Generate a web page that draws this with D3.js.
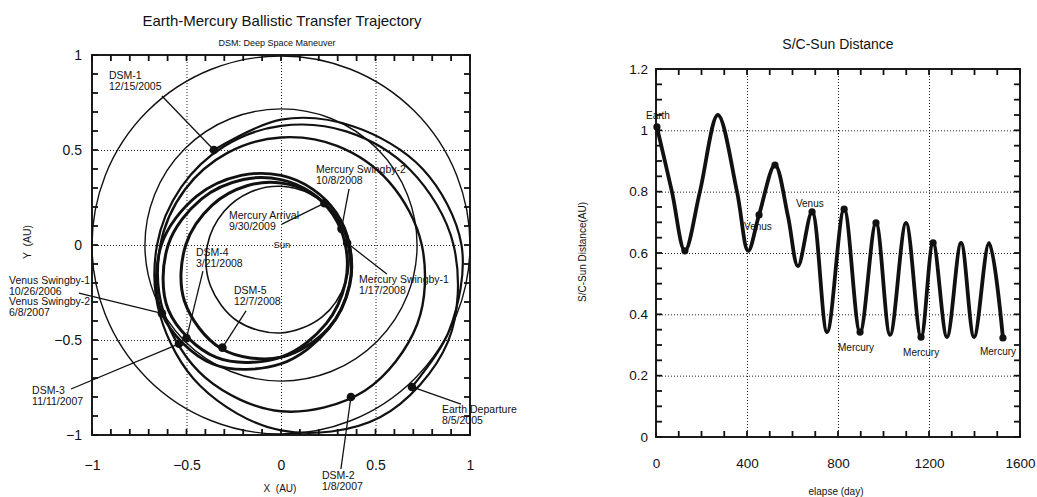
<!DOCTYPE html>
<html>
<head>
<meta charset="utf-8">
<script src="https://cdnjs.cloudflare.com/ajax/libs/d3/7.8.5/d3.min.js"></script>
<style>
    body { margin: 0; background: #fff; }
    svg text { font-family: "Liberation Sans", Arial, sans-serif; fill: #111; }
    .grid line { stroke: #222; stroke-dasharray: 1,2; stroke-width: 1; }
    .grid path { display: none; }
    .labels path, .labels line { display: none; }
</style>
</head>
<body>
<svg id="chart" width="1037" height="497"></svg>
<script>
// ---------- left chart : trajectory (AU) ----------
var earthOrbitR = 1.0;
var venusOrbitR = 0.72;

// spacecraft loops (x, y in AU)
var legDeparture = [[0.693,-0.747],[0.89,-0.45],[0.955,0],[0.75,0.40],[0.38,0.625],[0,0.66],[-0.355,0.50]];
var legEarthVenus = [[0.913,0],[0.684,0.395],[0.345,0.598],[0,0.627],[-0.300,0.520],[-0.528,0.305],
    [-0.656,0],[-0.640,-0.370],[-0.428,-0.741],[0,-0.976],[0.524,-0.907],[0.883,-0.510]];
var legVenusVenus = [[0.745,0],[0.573,0.331],[0.300,0.520],[0,0.566],[-0.281,0.486],[-0.507,0.293],
    [-0.638,0],[-0.620,-0.358],[-0.402,-0.697],[0,-0.875],[0.443,-0.767],[0.721,-0.416]];
var legVenusMercury = [[0.363,0],[0.293,0.169],[0.169,0.293],[0,0.366],[-0.211,0.366],[-0.446,0.257],
    [-0.633,0],[-0.629,-0.363],[-0.361,-0.626],[0,-0.625],[0.254,-0.439],[0.362,-0.209]];
var legMercury1 = [[0.341,0],[0.275,0.159],[0.159,0.276],[0,0.344],[-0.199,0.345],[-0.420,0.243],
    [-0.597,0],[-0.595,-0.344],[-0.342,-0.592],[0,-0.590],[0.239,-0.414],[0.341,-0.197]];
var legMercury2 = [[0.360,0],[0.282,0.163],[0.158,0.273],[0,0.326],[-0.180,0.312],[-0.364,0.210],
    [-0.504,0],[-0.511,-0.295],[-0.315,-0.546],[0,-0.591],[0.252,-0.437],[0.364,-0.210]];
var mercuryOrbit = [[0.354,0],[0.282,0.163],[0.155,0.268],[0,0.309],[-0.161,0.279],[-0.303,0.175],
    [-0.389,0],[-0.373,-0.216],[-0.231,-0.400],[0,-0.463],[0.218,-0.378],[0.341,-0.197]];

var eventLines = [["DSM-1","12/15/2005"], ["Mercury Swingby-2","10/8/2008"], ["Mercury Arrival","9/30/2009"],
    ["Mercury Swingby-1","1/17/2008"], ["DSM-4","3/21/2008"], ["DSM-5","12/7/2008"],
    ["Venus Swingby-1","10/26/2006","Venus Swingby-2","6/8/2007"], ["DSM-3","11/11/2007"],
    ["DSM-2","1/8/2007"], ["Earth Departure","8/5/2005"]];
var eventX = [-0.355, 0.32, 0.23, 0.35, -0.50, -0.31, -0.63, -0.54, 0.37, 0.693];
var eventY = [0.50, 0.085, 0.22, 0.01, -0.49, -0.54, -0.36, -0.52, -0.80, -0.747];

// ---------- right chart : S/C - Sun distance ----------
var elapseDays = [4, 70, 127, 193, 272, 356, 405, 453, 523, 580, 624, 686, 752, 827, 897,
    967, 1029, 1099, 1165, 1218, 1279, 1341, 1398, 1464, 1525];
var sunDistance = [1.011, 0.80, 0.607, 0.80, 1.05, 0.80, 0.607, 0.724, 0.887, 0.72, 0.557, 0.734, 0.342, 0.743, 0.342,
    0.698, 0.333, 0.698, 0.326, 0.633, 0.326, 0.633, 0.326, 0.633, 0.323];
var markDays = [4, 127, 453, 523, 686, 827, 897, 967, 1165, 1218, 1525];
var markDist = [1.011, 0.607, 0.724, 0.887, 0.734, 0.743, 0.342, 0.698, 0.326, 0.633, 0.323];
var bodyNames = ["Earth", "Venus", "Venus", "Mercury", "Mercury", "Mercury"];


// small inward ticks on the four sides of a box
function drawFrameTicks(g, x, y, xTicks, yTicks, len) {
    var x0 = x.range()[0], x1 = x.range()[1], y0 = y.range()[0], y1 = y.range()[1];
    var segs = [];
    xTicks.forEach(function (d) {
        segs.push([x(d), y0, x(d), y0 - len]);
        segs.push([x(d), y1, x(d), y1 + len]);
    });
    yTicks.forEach(function (d) {
        segs.push([x0, y(d), x0 + len, y(d)]);
        segs.push([x1, y(d), x1 - len, y(d)]);
    });
    g.selectAll(null).data(segs).enter().append("line")
        .attr("x1", function (s) { return s[0]; }).attr("y1", function (s) { return s[1]; })
        .attr("x2", function (s) { return s[2]; }).attr("y2", function (s) { return s[3]; })
        .attr("stroke", "#111").attr("stroke-width", 1.8);
    g.append("rect").attr("x", x0).attr("y", y1).attr("width", x1 - x0).attr("height", y0 - y1)
        .attr("fill", "none").attr("stroke", "#111").attr("stroke-width", 1.9);
}


function OrbitChart(svg) {
    var self = this;
    self.svg = svg;
    self.init();
}

OrbitChart.prototype.init = function () {
    var self = this;
    self.x = d3.scaleLinear().domain([-1, 1]).range([92, 470]);
    self.y = d3.scaleLinear().domain([-1, 1]).range([435, 55]);
    self.g = self.svg.append("g");
};

OrbitChart.prototype.update = function () {
    var self = this;
    var g = self.g, x = self.x, y = self.y;
    var left = 92, right = 470, top = 55, bottom = 435;

    // dotted grid
    g.append("g").attr("class", "grid").attr("transform", "translate(0," + bottom + ")")
        .call(d3.axisBottom(x).tickValues([-0.5, 0, 0.5]).tickSize(-(bottom - top)).tickFormat(""));
    g.append("g").attr("class", "grid").attr("transform", "translate(" + left + ",0)")
        .call(d3.axisLeft(y).tickValues([-0.5, 0, 0.5]).tickSize(-(right - left)).tickFormat(""));

    // orbits of the planets
    g.append("circle").attr("cx", x(0)).attr("cy", y(0)).attr("r", x(earthOrbitR) - x(0))
        .attr("fill", "none").attr("stroke", "#111").attr("stroke-width", 1.4);
    g.append("circle").attr("cx", x(0)).attr("cy", y(0)).attr("r", x(venusOrbitR) - x(0))
        .attr("fill", "none").attr("stroke", "#111").attr("stroke-width", 1.4);

    var loop = d3.line().x(function (d) { return x(d[0]); }).y(function (d) { return y(d[1]); })
        .curve(d3.curveCatmullRomClosed);
    var arc = d3.line().x(function (d) { return x(d[0]); }).y(function (d) { return y(d[1]); })
        .curve(d3.curveCatmullRom);

    g.append("path").attr("d", arc(legDeparture)).attr("fill", "none")
        .attr("stroke", "#111").attr("stroke-width", 2.2);

    var legs = [mercuryOrbit, legEarthVenus, legVenusVenus, legVenusMercury, legMercury1, legMercury2];
    var widths = [1.6, 2.2, 2.4, 2.8, 3, 3];
    legs.forEach(function (d, i) {
        g.append("path").attr("d", loop(d)).attr("fill", "none")
            .attr("stroke", "#111").attr("stroke-width", widths[i]);
    });

    // leader lines + labels (label spots in AU)
    var labelAt = [[-0.91, 0.874, -0.63, 0.784], [0.185, 0.379, 0.36, 0.295], [-0.275, 0.137, 0.005, 0.11],
        [0.413, -0.20, 0.56, -0.153], [-0.45, -0.058, -0.413, -0.137], [-0.249, -0.258, -0.185, -0.347],
        [-1.439, -0.205, -1.069, -0.253], [-1.317, -0.784, -1.111, -0.758], [0.217, -1.232, 0.317, -1.179],
        [0.852, -0.884, 0.952, -0.837]];

    eventLines.forEach(function (lines, i) {
        var p = labelAt[i];
        g.append("line")
            .attr("x1", x(p[2])).attr("y1", y(p[3]))
            .attr("x2", x(eventX[i])).attr("y2", y(eventY[i]))
            .attr("stroke", "#111").attr("stroke-width", 1.3);
        var t = g.append("text").attr("x", x(p[0])).attr("y", y(p[1])).attr("font-size", "10.5px");
        lines.forEach(function (s, k) {
            t.append("tspan").attr("x", x(p[0])).attr("dy", k == 0 ? 0 : 10.6).text(s);
        });
    });

    g.selectAll("circle.ev").data(eventX).enter().append("circle").attr("class", "ev")
        .attr("cx", function (d) { return x(d); })
        .attr("cy", function (d, i) { return y(eventY[i]); })
        .attr("r", 4.3).attr("fill", "#111");

    g.append("text").attr("x", x(-0.04)).attr("y", y(-0.018)).attr("font-size", "9.5px").text("Sun");

    // frame + inward ticks every 0.1
    var tenths = d3.range(-10, 11).map(function (k) { return k / 10; });
    drawFrameTicks(g, x, y, tenths, tenths, 6);

    var fmt = function (d) { return d3.format("")(d); };
    g.append("g").attr("class", "labels").attr("transform", "translate(0," + bottom + ")")
        .call(d3.axisBottom(x).tickValues([-1, -0.5, 0, 0.5, 1]).tickSize(0).tickPadding(25).tickFormat(fmt))
        .selectAll("text").attr("font-size", "14px");
    g.append("g").attr("class", "labels").attr("transform", "translate(" + left + ",0)")
        .call(d3.axisLeft(y).tickValues([-1, -0.5, 0, 0.5, 1]).tickSize(0).tickPadding(10).tickFormat(fmt))
        .selectAll("text").attr("font-size", "14px");

    // titles
    g.append("text").attr("x", 282).attr("y", 26).attr("text-anchor", "middle").attr("font-size", "15px")
        .text("Earth-Mercury Ballistic Transfer Trajectory");
    g.append("text").attr("x", 277).attr("y", 46).attr("text-anchor", "middle").attr("font-size", "9px")
        .text("DSM: Deep Space Maneuver");
    g.append("text").attr("x", 280).attr("y", 492).attr("text-anchor", "middle").attr("font-size", "10px")
        .attr("xml:space", "preserve").text("X  (AU)");
    g.append("text").attr("transform", "translate(31,242) rotate(-90)").attr("text-anchor", "middle")
        .attr("font-size", "10.5px").attr("xml:space", "preserve").text("Y  (AU)");
};


function DistanceChart(svg) {
    var self = this;
    self.svg = svg;
    self.init();
}

DistanceChart.prototype.init = function () {
    var self = this;
    self.margin = {left: 656, right: 1020, top: 69, bottom: 437};
    self.x = d3.scaleLinear().domain([0, 1600]).range([656, 1020]);
    self.y = d3.scaleLinear().domain([0, 1.2]).range([437, 69]);
    self.g = self.svg.append("g");
};

DistanceChart.prototype.update = function () {
    var self = this;
    var g = self.g, x = self.x, y = self.y, m = self.margin;

    g.append("g").attr("class", "grid").attr("transform", "translate(0," + m.bottom + ")")
        .call(d3.axisBottom(x).tickValues([400, 800, 1200]).tickSize(-(m.bottom - m.top)).tickFormat(""));
    g.append("g").attr("class", "grid").attr("transform", "translate(" + m.left + ",0)")
        .call(d3.axisLeft(y).tickValues([0.2, 0.4, 0.6, 0.8, 1.0]).tickSize(-(m.right - m.left)).tickFormat(""));

    var line = d3.line()
        .x(function (d, i) { return x(elapseDays[i]); })
        .y(function (d) { return y(d); })
        .curve(d3.curveCatmullRom.alpha(0.5));

    g.append("path").attr("d", line(sunDistance)).attr("fill", "none")
        .attr("stroke", "#111").attr("stroke-width", 3.8).attr("stroke-linejoin", "round");

    g.selectAll("circle.mk").data(markDays).enter().append("circle").attr("class", "mk")
        .attr("cx", function (d) { return x(d); })
        .attr("cy", function (d, i) { return y(markDist[i]); })
        .attr("r", 3.6).attr("fill", "#111");

    // body labels (left x in days, baseline in AU)
    var nameAt = [[-44, 1.037], [387, 0.675], [615, 0.75], [800, 0.280], [1086, 0.264], [1424, 0.267]];
    bodyNames.forEach(function (s, i) {
        g.append("text").attr("x", x(nameAt[i][0])).attr("y", y(nameAt[i][1]))
            .attr("font-size", "10px").text(s);
    });

    drawFrameTicks(g, x, y, d3.range(0, 1601, 100),
        d3.range(0, 25).map(function (k) { return k * 0.05; }), 6);

    g.append("g").attr("class", "labels").attr("transform", "translate(0," + m.bottom + ")")
        .call(d3.axisBottom(x).tickValues([0, 400, 800, 1200, 1600]).tickSize(0).tickPadding(21).tickFormat(d3.format("d")))
        .selectAll("text").attr("font-size", "13.5px");
    g.append("g").attr("class", "labels").attr("transform", "translate(" + m.left + ",0)")
        .call(d3.axisLeft(y).tickValues([0, 0.2, 0.4, 0.6, 0.8, 1, 1.2]).tickSize(0).tickPadding(8)
            .tickFormat(function (d) { return d3.format("")(+d.toFixed(1)); }))
        .selectAll("text").attr("font-size", "13.5px");

    g.append("text").attr("x", 838).attr("y", 49).attr("text-anchor", "middle").attr("font-size", "14px")
        .text("S/C-Sun Distance");
    g.append("text").attr("transform", "translate(586,252) rotate(-90)").attr("text-anchor", "middle")
        .attr("font-size", "10px").text("S/C-Sun Distance(AU)");
    g.append("text").attr("x", 836).attr("y", 495).attr("text-anchor", "middle").attr("font-size", "10px")
        .text("elapse (day)");
};

var svg = d3.select("#chart");
var orbitChart = new OrbitChart(svg);
orbitChart.update();
var distanceChart = new DistanceChart(svg);
distanceChart.update();
</script>
</body>
</html>
